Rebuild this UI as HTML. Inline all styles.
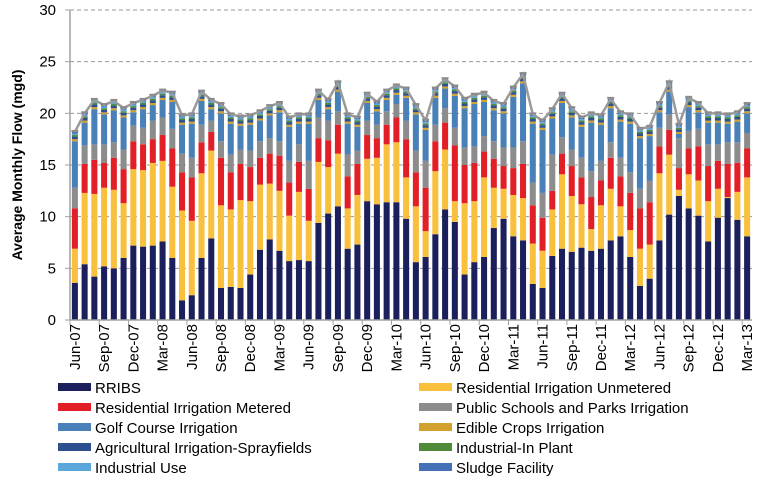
<!DOCTYPE html>
<html><head><meta charset="utf-8">
<style>
html,body{margin:0;padding:0;background:#fff;}
svg{display:block;font-family:"Liberation Sans",sans-serif;}
</style></head>
<body>
<svg id="chart" width="765" height="480"></svg>
<script>
const months = ["Jun-07","Jul-07","Aug-07","Sep-07","Oct-07","Nov-07","Dec-07","Jan-08","Feb-08","Mar-08","Apr-08","May-08","Jun-08","Jul-08","Aug-08","Sep-08","Oct-08","Nov-08","Dec-08","Jan-09","Feb-09","Mar-09","Apr-09","May-09","Jun-09","Jul-09","Aug-09","Sep-09","Oct-09","Nov-09","Dec-09","Jan-10","Feb-10","Mar-10","Apr-10","May-10","Jun-10","Jul-10","Aug-10","Sep-10","Oct-10","Nov-10","Dec-10","Jan-11","Feb-11","Mar-11","Apr-11","May-11","Jun-11","Jul-11","Aug-11","Sep-11","Oct-11","Nov-11","Dec-11","Jan-12","Feb-12","Mar-12","Apr-12","May-12","Jun-12","Jul-12","Aug-12","Sep-12","Oct-12","Nov-12","Dec-12","Jan-13","Feb-13","Mar-13"];
const rribs = [3.6,5.4,4.2,5.2,5.0,6.0,7.2,7.1,7.2,7.6,6.0,1.9,2.4,6.0,7.9,3.1,3.2,3.1,4.4,6.8,7.8,6.7,5.7,5.8,5.7,9.4,10.3,11.0,6.9,7.3,11.5,11.2,11.4,11.4,9.8,5.6,6.1,8.3,10.7,9.5,4.4,5.6,6.1,8.9,9.8,8.1,7.7,3.5,3.1,6.2,6.9,6.6,7.0,6.7,6.9,7.7,8.1,6.1,3.3,4.0,7.7,10.2,12.0,10.8,10.1,7.6,9.9,11.8,9.7,8.1];
const resUnmetered = [3.3,6.9,8.0,7.6,7.6,5.3,7.4,7.4,8.0,7.8,6.9,8.7,7.2,8.2,8.5,8.0,7.5,8.5,7.1,6.3,5.4,5.8,4.4,6.6,3.9,5.9,4.5,5.1,3.9,4.8,4.1,4.5,5.6,5.8,4.0,5.4,2.5,6.1,5.8,2.0,6.9,5.9,7.7,3.9,2.9,4.0,4.1,3.9,3.6,4.5,7.2,5.4,4.2,2.1,4.2,5.0,2.9,2.6,3.6,3.3,6.5,5.8,0.6,3.3,3.4,3.9,2.8,0.1,2.7,5.7];
const resMetered = [3.9,2.8,3.3,2.4,3.1,3.3,2.7,2.5,2.3,2.5,3.7,3.7,4.2,3.0,1.8,4.6,3.6,3.5,3.3,2.6,2.9,3.4,3.2,2.9,3.1,2.3,2.6,2.8,3.1,3.0,2.3,1.9,1.9,2.4,3.7,3.3,4.2,2.9,2.6,5.4,3.7,3.7,2.5,2.8,2.2,2.6,3.3,3.7,3.2,1.8,2.0,2.9,2.6,3.1,2.4,3.0,2.9,3.6,3.9,4.1,2.6,2.4,2.1,2.5,3.3,3.4,2.7,3.2,2.8,2.8];
const schoolsParks = [2.0,1.8,1.5,1.8,1.5,1.9,1.5,1.6,1.8,1.7,1.9,1.8,1.9,1.7,1.1,1.6,1.7,1.4,1.6,1.6,1.5,1.4,2.1,1.7,2.7,2.0,1.9,1.3,2.1,1.3,1.4,1.3,1.3,1.3,1.8,2.1,2.6,1.6,1.4,1.7,1.7,1.6,1.5,1.7,1.8,2.0,2.2,2.2,2.4,3.5,1.6,1.6,1.9,2.5,1.9,1.5,1.8,2.0,1.9,2.1,1.8,1.5,2.9,1.7,1.7,2.1,1.6,2.1,2.0,1.5];
const golfCourse = [4.5,2.2,3.4,2.9,3.1,3.1,1.3,1.8,1.5,1.7,2.6,2.8,3.3,2.3,1.1,2.7,3.0,2.3,2.5,2.0,2.2,2.8,3.3,2.0,3.6,1.7,1.1,1.9,3.0,2.3,1.7,1.3,1.1,0.9,2.2,3.5,3.0,2.6,1.9,3.1,3.8,4.1,3.3,3.0,3.3,4.9,5.6,5.7,6.1,3.5,3.3,3.1,3.0,4.7,3.5,3.3,3.5,4.7,4.9,4.3,1.5,2.2,0.4,2.3,1.6,2.1,2.1,1.8,2.0,1.9];
const edibleCrops = [0.2,0.2,0.2,0.2,0.2,0.2,0.2,0.2,0.2,0.2,0.2,0.2,0.2,0.2,0.2,0.2,0.2,0.2,0.2,0.2,0.2,0.2,0.2,0.2,0.2,0.2,0.2,0.2,0.2,0.2,0.2,0.2,0.2,0.2,0.2,0.2,0.2,0.2,0.2,0.2,0.2,0.2,0.2,0.2,0.2,0.2,0.2,0.2,0.2,0.2,0.2,0.2,0.2,0.2,0.2,0.2,0.2,0.2,0.2,0.2,0.2,0.2,0.2,0.2,0.2,0.2,0.2,0.2,0.2,0.2];
const agSprayfields = [0.25,0.25,0.25,0.25,0.25,0.25,0.25,0.25,0.25,0.25,0.25,0.25,0.25,0.25,0.25,0.25,0.25,0.25,0.25,0.25,0.25,0.25,0.25,0.25,0.25,0.25,0.25,0.25,0.25,0.25,0.25,0.25,0.25,0.25,0.25,0.25,0.25,0.25,0.25,0.25,0.25,0.25,0.25,0.25,0.25,0.25,0.25,0.25,0.25,0.25,0.25,0.25,0.25,0.25,0.25,0.25,0.25,0.25,0.25,0.25,0.25,0.25,0.25,0.25,0.25,0.25,0.25,0.25,0.25,0.25];
const industrialInPlant = [0.15,0.15,0.15,0.15,0.15,0.15,0.15,0.15,0.15,0.15,0.15,0.15,0.15,0.15,0.15,0.15,0.15,0.15,0.15,0.15,0.15,0.15,0.15,0.15,0.15,0.15,0.15,0.15,0.15,0.15,0.15,0.15,0.15,0.15,0.15,0.15,0.15,0.15,0.15,0.15,0.15,0.15,0.15,0.15,0.15,0.15,0.15,0.15,0.15,0.15,0.15,0.15,0.15,0.15,0.15,0.15,0.15,0.15,0.15,0.15,0.15,0.15,0.15,0.15,0.15,0.15,0.15,0.15,0.15,0.15];
const industrialUse = [0.15,0.15,0.15,0.15,0.15,0.15,0.15,0.15,0.15,0.15,0.15,0.15,0.15,0.15,0.15,0.15,0.15,0.15,0.15,0.15,0.15,0.15,0.15,0.15,0.15,0.15,0.15,0.15,0.15,0.15,0.15,0.15,0.15,0.15,0.15,0.15,0.15,0.15,0.15,0.15,0.15,0.15,0.15,0.15,0.15,0.15,0.15,0.15,0.15,0.15,0.15,0.15,0.15,0.15,0.15,0.15,0.15,0.15,0.15,0.15,0.15,0.15,0.15,0.15,0.15,0.15,0.15,0.15,0.15,0.15];
const sludge = [0.15,0.15,0.15,0.15,0.15,0.15,0.15,0.15,0.15,0.15,0.15,0.15,0.15,0.15,0.15,0.15,0.15,0.15,0.15,0.15,0.15,0.15,0.15,0.15,0.15,0.15,0.15,0.15,0.15,0.15,0.15,0.15,0.15,0.15,0.15,0.15,0.15,0.15,0.15,0.15,0.15,0.15,0.15,0.15,0.15,0.15,0.15,0.15,0.15,0.15,0.15,0.15,0.15,0.15,0.15,0.15,0.15,0.15,0.15,0.15,0.15,0.15,0.15,0.15,0.15,0.15,0.15,0.15,0.15,0.15];
const yTicks = [0,5,10,15,20,25,30];

const NS = "http://www.w3.org/2000/svg";
const svg = document.getElementById("chart");
const X0 = 70, X1 = 752, Y0 = 320, Y1 = 10, YMAX = 30;
const step = (X1 - X0) / months.length;
const xC = i => X0 + step * (i + 0.5);
const yS = v => Y0 - (v / YMAX) * (Y0 - Y1);
function mk(tag, attrs, parent) {
  const e = document.createElementNS(NS, tag);
  for (const k in attrs) e.setAttribute(k, attrs[k]);
  (parent || svg).appendChild(e);
  return e;
}
const series = [
  {name:"RRIBS", data:rribs, color:"#1b1f5c", key:"rribs"},
  {name:"Residential Irrigation Unmetered", data:resUnmetered, color:"#f8c03c", key:"res-unmetered"},
  {name:"Residential Irrigation Metered", data:resMetered, color:"#e21f26", key:"res-metered"},
  {name:"Public Schools and Parks Irrigation", data:schoolsParks, color:"#8c8c8c", key:"schools-parks"},
  {name:"Golf Course Irrigation", data:golfCourse, color:"#4a80b8", key:"golf-course"},
  {name:"Edible Crops Irrigation", data:edibleCrops, color:"#d2a12e", key:"edible-crops"},
  {name:"Agricultural Irrigation-Sprayfields", data:agSprayfields, color:"#2c4f90", key:"ag-sprayfields"},
  {name:"Industrial-In Plant", data:industrialInPlant, color:"#4f8a38", key:"industrial-in-plant"},
  {name:"Industrial Use", data:industrialUse, color:"#5ba7dc", key:"industrial-use"},
  {name:"Sludge Facility", data:sludge, color:"#4470b6", key:"sludge"}
];

yTicks.forEach(t => {
  if (t > 0) {
    const g = mk("line", {x1:X0, x2:X1, y1:yS(t), y2:yS(t), stroke:"#9a9a9a", "stroke-dasharray":"4,3", "stroke-width":1});
    
    
  }
  const l = mk("text", {x:56, y:yS(t)+5, "text-anchor":"end", "font-size":15, fill:"#000"});
  l.textContent = t;
  
  
});

const bw = step * 0.62;
const totals = [];
months.forEach((m, i) => {
  let acc = 0;
  series.forEach(s => {
    const v = s.data[i];
    const r = mk("rect", {x:xC(i)-bw/2, y:yS(acc+v), width:bw, height:Math.max(0, yS(acc)-yS(acc+v)), fill:s.color});
    
    
    acc += v;
  });
  totals.push(acc);
});

const ya = mk("line", {x1:X0, x2:X0, y1:Y1, y2:Y0, stroke:"#a0a0a0", "stroke-width":1.5});


const xa = mk("line", {x1:X0, x2:X1, y1:Y0, y2:Y0, stroke:"#a0a0a0", "stroke-width":1.5});


yTicks.forEach(t => {
  const tk = mk("line", {x1:X0-5, x2:X0, y1:yS(t), y2:yS(t), stroke:"#a0a0a0"});
  
  
});

const pts = totals.map((t, i) => xC(i) + "," + yS(t)).join(" ");
const pl = mk("polyline", {points:pts, fill:"none", stroke:"#9a9a9a", "stroke-width":2.5});


totals.forEach((t, i) => {
  const c = mk("line", {x1:xC(i)-3.5, x2:xC(i)+3.5, y1:yS(t)-1, y2:yS(t)-1, stroke:"#8a8a8a", "stroke-width":2});
  
  
});

months.forEach((m, i) => {
  if (i % 3 !== 0) return;
  const tk = mk("line", {x1:X0+step*i, x2:X0+step*i, y1:Y0, y2:Y0+5, stroke:"#a0a0a0"});
  
  
  const x = xC(i) + 5, y = 324;
  const l = mk("text", {x:x, y:y, "text-anchor":"end", "font-size":15, fill:"#000", transform:"rotate(-90 " + x + " " + y + ")"});
  l.textContent = m;
  
  
});

const yt = mk("text", {x:22, y:165, "text-anchor":"middle", "font-size":14, "font-weight":"bold", fill:"#000", transform:"rotate(-90 22 165)"});
yt.textContent = "Average Monthly Flow (mgd)";



series.forEach((s, k) => {
  const col = k % 2, row = Math.floor(k / 2);
  const sx = col ? 419 : 58, cy = 387 + row * 20;
  const g = mk("g", {});
  
  
  mk("rect", {x:sx, y:cy-4, width:33, height:8, fill:s.color}, g);
  const t = mk("text", {x:sx+37, y:cy+6, "font-size":15, fill:"#000"}, g);
  t.textContent = s.name;
});
</script>
</body></html>
